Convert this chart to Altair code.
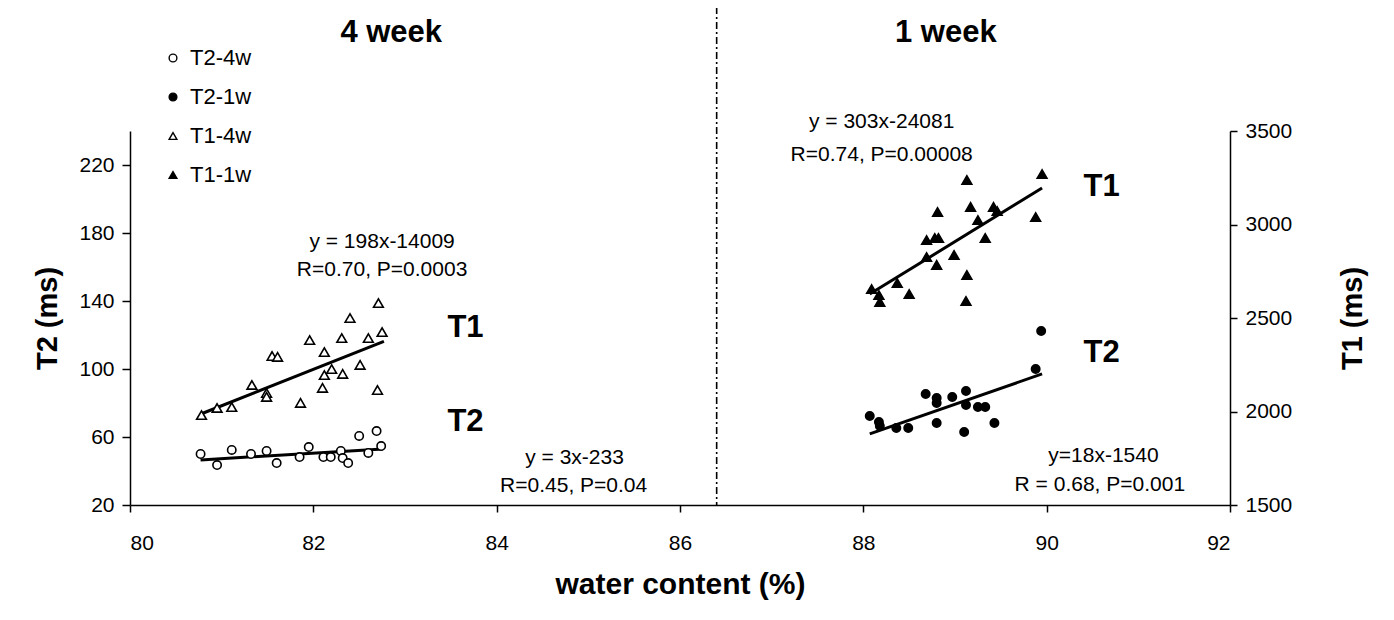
import altair as alt
import pandas as pd

FONT = "Liberation Sans"

# ---- data ----
t2_4w_x = [80.77, 80.95, 81.11, 81.32, 81.49, 81.60, 81.85, 81.95, 82.11, 82.19, 82.30, 82.32, 82.38, 82.50, 82.60, 82.69, 82.74]
t2_4w_y = [50.0, 43.5, 52.4, 50.0, 51.8, 44.7, 48.2, 54.1, 48.2, 48.2, 51.8, 47.6, 44.7, 60.6, 50.6, 63.5, 54.7]

t2_1w_x = [88.07, 88.17, 88.18, 88.36, 88.49, 88.68, 88.80, 88.80, 88.80, 88.97, 89.12, 89.12, 89.10, 89.25, 89.33, 89.43, 89.88, 89.94]
t2_1w_y = [72.4, 68.8, 66.5, 65.3, 65.3, 85.3, 82.9, 80.0, 68.2, 83.5, 87.1, 78.8, 62.9, 77.6, 77.6, 68.2, 100.0, 122.4]

t1_4w_x = [80.78, 80.95, 81.11, 81.33, 81.49, 81.49, 81.55, 81.61, 81.86, 81.96, 82.12, 82.12, 82.20, 82.10, 82.32, 82.31, 82.40, 82.51, 82.60, 82.71, 82.75, 82.70]
t1_4w_y = [1981, 2019, 2024, 2142, 2099, 2078, 2297, 2292, 2046, 2382, 2318, 2195, 2227, 2126, 2201, 2393, 2500, 2249, 2393, 2580, 2425, 2115]

t1_1w_x = [88.09, 88.17, 88.18, 88.37, 88.50, 88.69, 88.78, 88.82, 88.81, 88.69, 88.80, 88.99, 89.13, 89.17, 89.25, 89.33, 89.13, 89.12, 89.42, 89.46, 89.88, 89.95]
t1_1w_y = [2655, 2623, 2586, 2687, 2628, 2917, 2928, 2928, 3067, 2826, 2784, 2837, 3238, 3094, 3024, 2928, 2730, 2591, 3094, 3072, 3040, 3270]

# regression line end points
t2_line_grp = ["T2-4w", "T2-4w", "T2-1w", "T2-1w"]
t2_line_x = [80.77, 82.76, 88.07, 89.95]
t2_line_y = [46.5, 53.0, 61.8, 97.1]
t1_line_grp = ["T1-4w", "T1-4w", "T1-1w", "T1-1w"]
t1_line_x = [80.78, 82.77, 88.07, 89.95]
t1_line_y = [1988, 2375, 2628, 3195]

series_names = ["T2-4w", "T2-1w", "T1-4w", "T1-1w"]
series_shapes = ["circle", "circle", "triangle-up", "triangle-up"]
series_fills = ["white", "black", "white", "black"]
series_strokes = ["black", "black", "black", "black"]

divider_x = [86.4]

# annotations (x in water content, y in T2 units)
note_text = ["y = 198x-14009", "R=0.70, P=0.0003", "y = 3x-233", "R=0.45, P=0.04",
             "y = 303x-24081", "R=0.74, P=0.00008", "y=18x-1540", "R = 0.68, P=0.001"]
note_x = [82.75, 82.75, 84.85, 84.84, 88.2, 88.2, 90.62, 90.58]
note_y = [174.7, 158.2, 47.6, 31.2, 245.2, 225.9, 48.6, 31.8]

big_text = ["T1", "T2", "T1", "T2", "4 week", "1 week"]
big_x = [83.66, 83.66, 90.6, 90.6, 82.85, 88.9]
big_y = [124.0, 68.8, 207.0, 109.4, 297.6, 297.6]

# ---- tables ----
t2_df = pd.DataFrame({
    "x": t2_4w_x + t2_1w_x,
    "T2": t2_4w_y + t2_1w_y,
    "series": ["T2-4w"] * len(t2_4w_x) + ["T2-1w"] * len(t2_1w_x),
})
t1_df = pd.DataFrame({
    "x": t1_4w_x + t1_1w_x,
    "T1": t1_4w_y + t1_1w_y,
    "series": ["T1-4w"] * len(t1_4w_x) + ["T1-1w"] * len(t1_1w_x),
})
t2_line_df = pd.DataFrame({"x": t2_line_x, "T2": t2_line_y, "grp": t2_line_grp})
t1_line_df = pd.DataFrame({"x": t1_line_x, "T1": t1_line_y, "grp": t1_line_grp})
note_df = pd.DataFrame({"x": note_x, "T2": note_y, "text": note_text})
big_df = pd.DataFrame({"x": big_x, "T2": big_y, "text": big_text})
div_df = pd.DataFrame({"x": divider_x})

x_scale = alt.Scale(domain=[80, 92], nice=False, zero=False)
x_axis = alt.Axis(values=[80, 82, 84, 86, 88, 90, 92], format="d", title="water content (%)",
                  labelFontSize=21, tickSize=7, labelPadding=20,
                  titleFontSize=30, titleFontWeight="bold", titlePadding=16)
y2_scale = alt.Scale(domain=[20, 240], nice=False, zero=False)
y2_axis = alt.Axis(values=[20, 60, 100, 140, 180, 220], format="d", title="T2 (ms)", orient="left",
                   labelFontSize=21, tickSize=8, labelPadding=8,
                   titleFontSize=29, titleFontWeight="bold", titlePadding=16)
y1_scale = alt.Scale(domain=[1500, 3500], nice=False, zero=False)
y1_axis = alt.Axis(values=[1500, 2000, 2500, 3000, 3500], format="d", title="T1 (ms)", orient="right",
                   labelFontSize=21, tickSize=7, labelPadding=8,
                   titleFontSize=29, titleFontWeight="bold", titlePadding=76, titleAngle=270)

legend = alt.Legend(title=None, orient="none", legendX=32, legendY=-84,
                    labelFontSize=22, rowPadding=17, symbolSize=60,
                    symbolStrokeWidth=1.4, labelOffset=6, labelColor="black")
shape_enc = alt.Shape("series:N", scale=alt.Scale(domain=series_names, range=series_shapes), legend=legend)
fill_enc = alt.Fill("series:N", scale=alt.Scale(domain=series_names, range=series_fills), legend=legend)
stroke_enc = alt.Stroke("series:N", scale=alt.Scale(domain=series_names, range=series_strokes), legend=legend)

t2_points = alt.Chart(t2_df).mark_point(filled=False, strokeWidth=1.6, size=70, opacity=1).encode(
    x=alt.X("x:Q", scale=x_scale, axis=x_axis),
    y=alt.Y("T2:Q", scale=y2_scale, axis=y2_axis),
    shape=shape_enc,
    fill=fill_enc,
    stroke=stroke_enc,
)
t2_lines = alt.Chart(t2_line_df).mark_line(color="black", strokeWidth=3).encode(
    x=alt.X("x:Q", scale=x_scale), y=alt.Y("T2:Q", scale=y2_scale), detail="grp:N")
notes = alt.Chart(note_df).mark_text(font=FONT, fontSize=21, color="black", align="center", baseline="middle").encode(
    x=alt.X("x:Q", scale=x_scale), y=alt.Y("T2:Q", scale=y2_scale), text="text:N")
bigs = alt.Chart(big_df).mark_text(font=FONT, fontSize=31, fontWeight="bold", color="black", align="center", baseline="middle").encode(
    x=alt.X("x:Q", scale=x_scale), y=alt.Y("T2:Q", scale=y2_scale), text="text:N")
divider = alt.Chart(div_df).mark_rule(color="black", strokeWidth=1.6, strokeDash=[7, 3, 2, 3]).encode(
    x=alt.X("x:Q", scale=x_scale), y=alt.value(-124), y2=alt.value(374))

left = alt.layer(divider, t2_lines, t2_points, notes, bigs)

t1_points = alt.Chart(t1_df).mark_point(filled=False, strokeWidth=1.6, size=95, opacity=1).encode(
    x=alt.X("x:Q", scale=x_scale, axis=x_axis),
    y=alt.Y("T1:Q", scale=y1_scale, axis=y1_axis),
    shape=shape_enc,
    fill=fill_enc,
    stroke=stroke_enc,
)
t1_lines = alt.Chart(t1_line_df).mark_line(color="black", strokeWidth=3).encode(
    x=alt.X("x:Q", scale=x_scale), y=alt.Y("T1:Q", scale=y1_scale), detail="grp:N")
right = alt.layer(t1_lines, t1_points)

chart = alt.layer(left, right).resolve_scale(y="independent").properties(
    width=1100, height=374,
    padding={"left": 122, "top": 123, "right": 156, "bottom": 105},
    autosize=alt.AutoSizeParams(type="none"),
    background="white",
).configure_view(stroke=None).configure_axis(
    grid=False, domainColor="black", tickColor="black", labelColor="black", titleColor="black",
    labelFont=FONT, titleFont=FONT, domainWidth=1.5, tickWidth=1.5,
).configure_legend(labelFont=FONT)

chart.save("out.html", embed_options={"renderer": "svg", "actions": False})
